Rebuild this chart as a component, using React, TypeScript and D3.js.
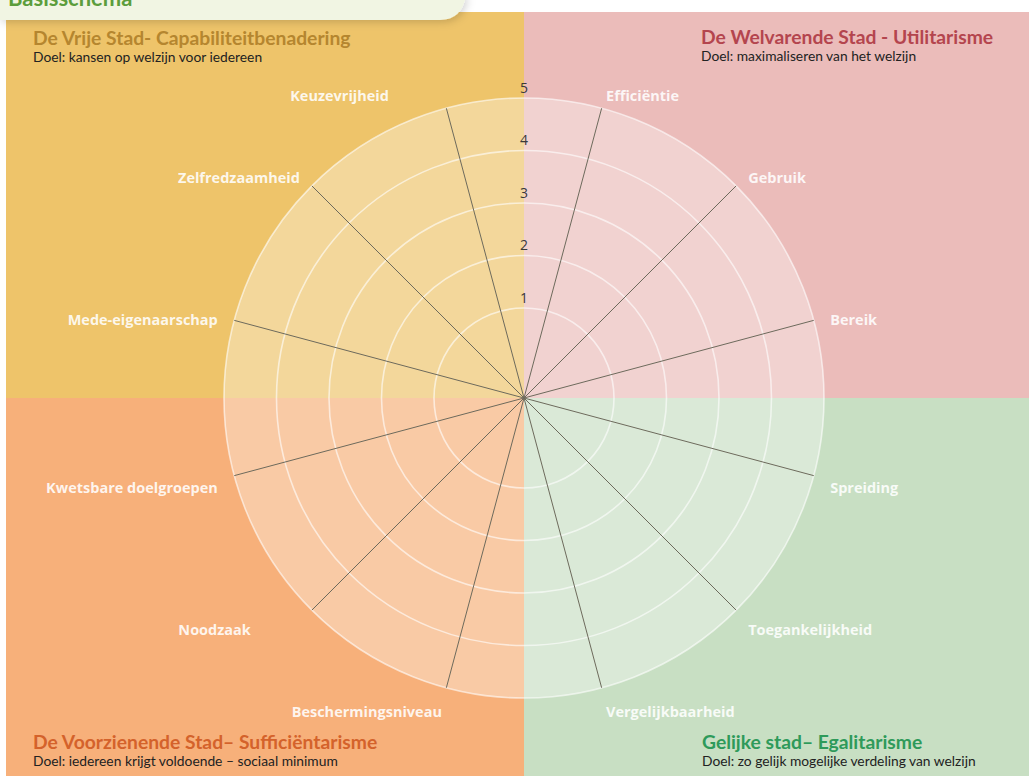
import React from 'react'
import * as d3 from 'd3'

// spokes, clockwise from just right of north
const criteria = [
  'Efficiëntie',
  'Gebruik',
  'Bereik',
  'Spreiding',
  'Toegankelijkheid',
  'Vergelijkbaarheid',
  'Beschermingsniveau',
  'Noodzaak',
  'Kwetsbare doelgroepen',
  'Mede-eigenaarschap',
  'Zelfredzaamheid',
  'Keuzevrijheid',
]
const ringValues = [1, 2, 3, 4, 5]
const tickLabels = ['1', '2', '3', '4', '5']

const quadrantTitles = [
  'De Vrije Stad- Capabiliteitbenadering',
  'De Welvarende Stad - Utilitarisme',
  'De Voorzienende Stad– Sufficiëntarisme',
  'Gelijke stad– Egalitarisme',
]
const quadrantGoals = [
  'Doel: kansen op welzijn voor iedereen',
  'Doel: maximaliseren van het welzijn',
  'Doel: iedereen krijgt voldoende – sociaal minimum',
  'Doel: zo gelijk mogelijke verdeling van welzijn',
]
const quadrantFill = ['#eec46a', '#ebbcba', '#f7b07a', '#c8dfc3']
const quadrantTitleColor = ['#b5862f', '#b4454e', '#d4622b', '#2e9a5a']

// a few labels sit further out than the rest
const labelNudge: Record<string, number> = { Keuzevrijheid: -53, Noodzaak: -49 }

const App: React.FunctionComponent = () => {
  const width = 1029
  const height = 776
  const cx = 524
  const cy = 398
  const left = 6
  const top = 12
  const font = 'Lato, "Noto Sans", sans-serif'
  const labelFont = '"Open Sans", "Noto Sans", sans-serif'

  const r = d3.scaleLinear().domain([0, 5]).range([37.5, 300])
  const outer = r(5)

  const angle = d3
    .scaleBand()
    .domain(criteria)
    .range([0, 2 * Math.PI])

  const spokeAngle = (c: string) => (angle(c) || 0) + angle.bandwidth() / 2

  const quads = [
    { x: left, y: top, w: cx - left, h: cy - top, tx: 33, ty: 45 },
    { x: cx, y: top, w: width - cx, h: cy - top, tx: 701, ty: 44 },
    { x: left, y: cy, w: cx - left, h: height - cy, tx: 33, ty: 749 },
    { x: cx, y: cy, w: width - cx, h: height - cy, tx: 702, ty: 749 },
  ]

  return (
    <svg
      width={width}
      height={height}
      style={{ position: 'absolute', left: 0, top: 0, background: '#fff' }}
    >
      <defs>
        <filter id="tabShadow" x="-10%" y="-50%" width="120%" height="250%">
          <feDropShadow dx="2" dy="2" stdDeviation="4" floodColor="#000" floodOpacity="0.18" />
        </filter>
      </defs>

      {quads.map((q, i) => (
        <rect key={i} x={q.x} y={q.y} width={q.w} height={q.h} fill={quadrantFill[i]} />
      ))}

      <circle cx={cx} cy={cy} r={outer} fill="#fff" fillOpacity={0.33} />

      {ringValues.map(v => (
        <circle
          key={v}
          cx={cx}
          cy={cy}
          r={r(v)}
          fill="none"
          stroke="#fff"
          strokeOpacity={0.6}
          strokeWidth={1.6}
        />
      ))}

      {criteria.map(c => {
        const a = spokeAngle(c)
        return (
          <line
            key={c}
            x1={cx}
            y1={cy}
            x2={cx + outer * Math.sin(a)}
            y2={cy - outer * Math.cos(a)}
            stroke="#6d6a5c"
            strokeWidth={1}
          />
        )
      })}

      {ringValues.map((v, i) => (
        <text
          key={v}
          x={cx}
          y={cy - r(v) - 9}
          textAnchor="middle"
          dominantBaseline="middle"
          fontFamily={labelFont}
          fontSize={14}
          fill="#3a3a3a"
        >
          {tickLabels[i]}
        </text>
      ))}

      {criteria.map(c => {
        const a = spokeAngle(c)
        const s = Math.sin(a)
        const co = Math.cos(a)
        const lr = outer + 17
        const x = cx + lr * s + (labelNudge[c] || 0)
        const y = cy - lr * co + 5 + (co < 0 ? 4 : 0)
        return (
          <text
            key={c}
            x={x}
            y={y}
            textAnchor={s > 0 ? 'start' : 'end'}
            dominantBaseline="middle"
            fontFamily={labelFont}
            fontWeight={700}
            fontSize={14.5}
            fill="#fff"
            fillOpacity={0.88}
          >
            {c}
          </text>
        )
      })}

      {quads.map((q, i) => (
        <g key={i}>
          <text
            x={q.tx}
            y={q.ty}
            fontFamily={font}
            fontWeight={700}
            fontSize={19.3}
            fill={quadrantTitleColor[i]}
          >
            {quadrantTitles[i]}
          </text>
          <text x={q.tx} y={q.ty + 17} fontFamily={font} fontSize={13.8} fill="#222">
            {quadrantGoals[i]}
          </text>
        </g>
      ))}

      <path d="M0,-5 H466 Q462,20 440,20 H0 Z" fill="#f1f5e3" filter="url(#tabShadow)" />
      <text x={8} y={6} fontFamily={font} fontWeight={700} fontSize={22} fill="#5c9d3c">
        Basisschema
      </text>
    </svg>
  )
}

export default App
